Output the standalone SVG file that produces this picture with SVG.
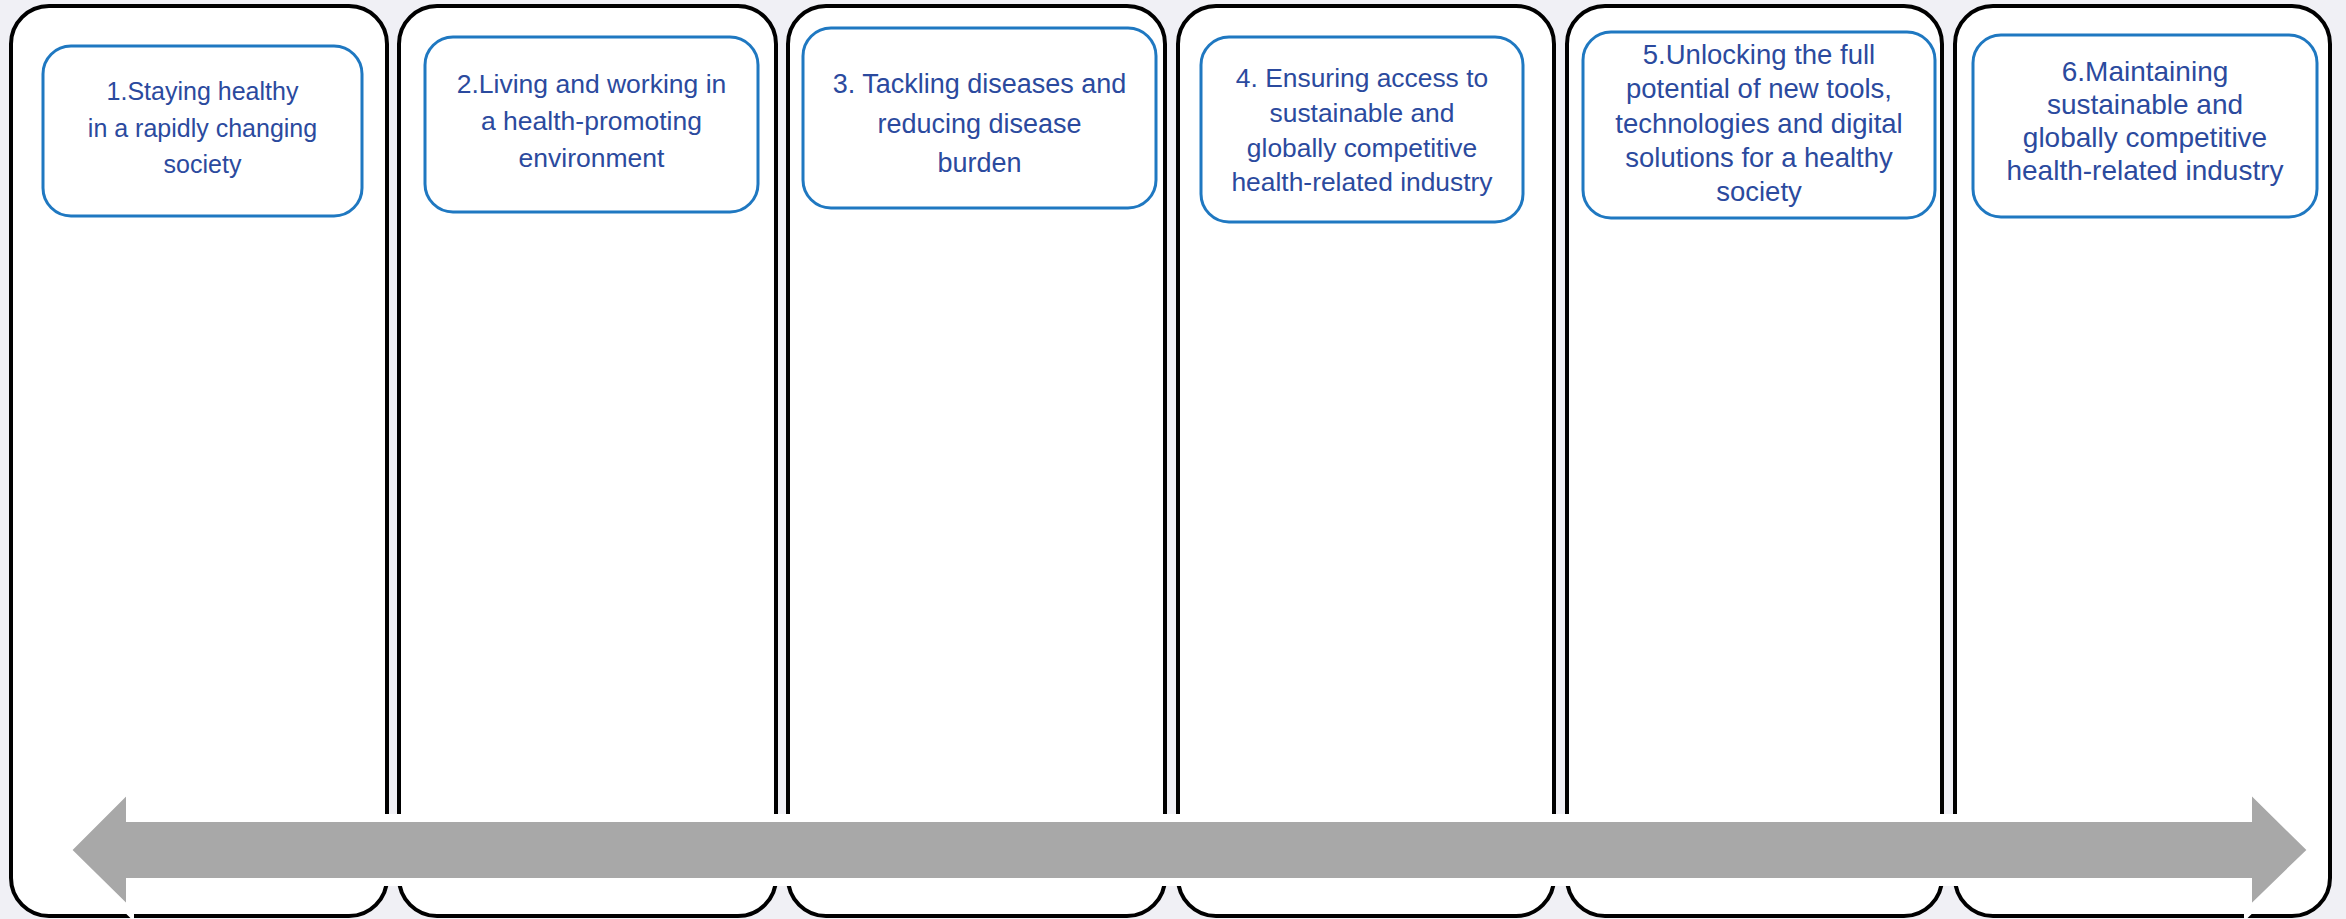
<svg xmlns="http://www.w3.org/2000/svg" width="2346" height="919" viewBox="0 0 2346 919">
<style>
.col{fill:#ffffff;stroke:#000000;stroke-width:4}
.box{fill:#ffffff;stroke:#1f78c1;stroke-width:3}
.t{font-family:"Liberation Sans",Arial,sans-serif;fill:#2b4a9e;text-anchor:middle}
.arrow{fill:#a8a8a8;stroke:#ffffff;stroke-width:8;stroke-linejoin:miter}
</style>
<rect x="0" y="0" width="2346" height="919" fill="#f0f0f5"/>
<g id="column1"><rect class="col" x="11" y="6" width="376" height="910" rx="38"/></g>
<g id="column2"><rect class="col" x="399" y="6" width="377" height="910" rx="38"/></g>
<g id="column3"><rect class="col" x="788" y="6" width="377" height="910" rx="38"/></g>
<g id="column4"><rect class="col" x="1178" y="6" width="376" height="910" rx="38"/></g>
<g id="column5"><rect class="col" x="1567" y="6" width="375" height="910" rx="38"/></g>
<g id="column6"><rect class="col" x="1955" y="6" width="375" height="910" rx="38"/></g>
<g id="node1"><rect class="box" x="43" y="46" width="319" height="170" rx="28"/>
<text class="t" font-size="25"><tspan x="202.5" y="100">1.Staying healthy</tspan><tspan x="202.5" y="137">in a rapidly changing</tspan><tspan x="202.5" y="173">society</tspan></text></g>
<g id="node2"><rect class="box" x="425" y="37" width="333" height="175" rx="28"/>
<text class="t" font-size="26.5"><tspan x="591.5" y="93">2.Living and working in</tspan><tspan x="591.5" y="130">a health-promoting</tspan><tspan x="591.5" y="167">environment</tspan></text></g>
<g id="node3"><rect class="box" x="803" y="28" width="353" height="180" rx="28"/>
<text class="t" font-size="27"><tspan x="979.5" y="93">3. Tackling diseases and</tspan><tspan x="979.5" y="133">reducing disease</tspan><tspan x="979.5" y="172">burden</tspan></text></g>
<g id="node4"><rect class="box" x="1201" y="37" width="322" height="185" rx="28"/>
<text class="t" font-size="26.4"><tspan x="1362" y="87">4. Ensuring access to</tspan><tspan x="1362" y="122">sustainable and</tspan><tspan x="1362" y="157">globally competitive</tspan><tspan x="1362" y="191">health-related industry</tspan></text></g>
<g id="node5"><rect class="box" x="1583" y="32" width="352" height="186" rx="28"/>
<text class="t" font-size="27.5"><tspan x="1759" y="64">5.Unlocking the full</tspan><tspan x="1759" y="98">potential of new tools,</tspan><tspan x="1759" y="133">technologies and digital</tspan><tspan x="1759" y="167">solutions for a healthy</tspan><tspan x="1759" y="201">society</tspan></text></g>
<g id="node6"><rect class="box" x="1973" y="35" width="344" height="182" rx="28"/>
<text class="t" font-size="28"><tspan x="2145" y="81">6.Maintaining</tspan><tspan x="2145" y="114">sustainable and</tspan><tspan x="2145" y="147">globally competitive</tspan><tspan x="2145" y="180">health-related industry</tspan></text></g>
<g id="connectors">
<polygon class="arrow" points="67,850 130,787 130,818 2248,818 2248,787 2312,850 2248,912 2248,882 130,882 130,912"/>
</g>
</svg>
